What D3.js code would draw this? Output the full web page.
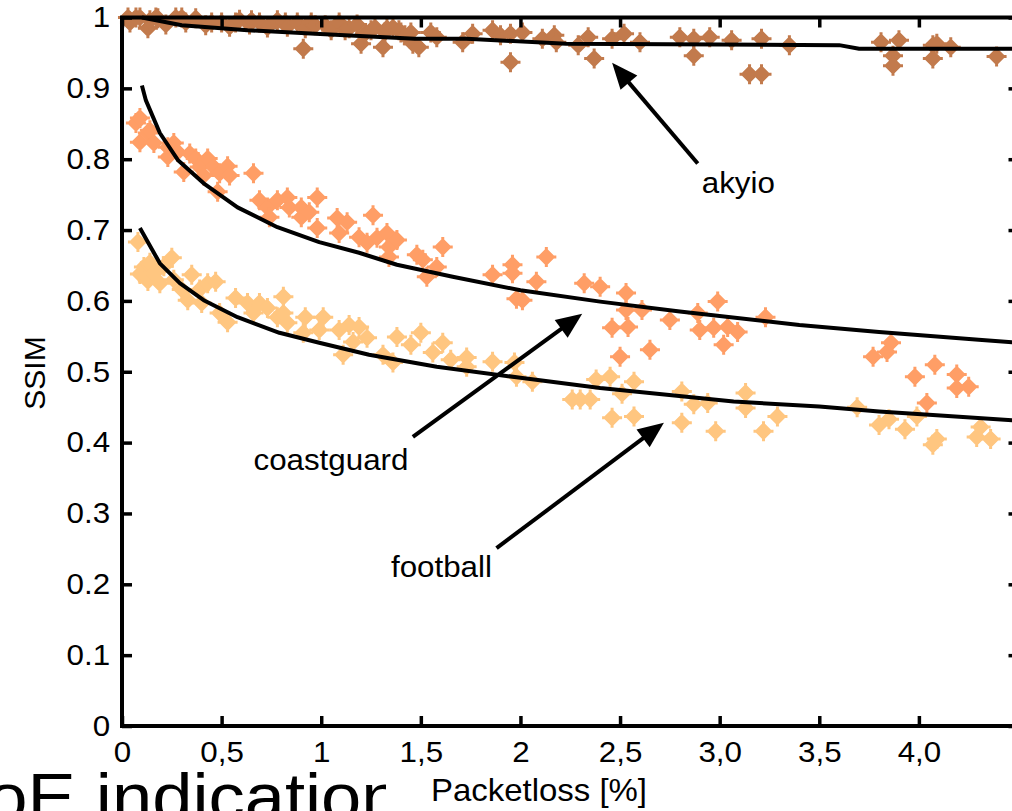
<!DOCTYPE html>
<html>
<head>
<meta charset="utf-8">
<script src="https://cdn.jsdelivr.net/npm/d3@7"></script>
<style>
	html, body { margin: 0; padding: 0; background: #fff; }
	svg { display: block; font-family: "Liberation Sans", Arial, sans-serif; }
</style>
</head>
<body>
<div id="chart"></div>
<script>

// tick labels (comma decimals on the x axis, as in the original)
var x_ticks = [0, 0.5, 1, 1.5, 2, 2.5, 3, 3.5, 4];
var x_tick_labels = ['0', '0,5', '1', '1,5', '2', '2,5', '3,0', '3,5', '4,0'];
var y_ticks = [0, 0.1, 0.2, 0.3, 0.4, 0.5, 0.6, 0.7, 0.8, 0.9, 1];
var y_tick_labels = ['0', '0.1', '0.2', '0.3', '0.4', '0.5', '0.6', '0.7', '0.8', '0.9', '1'];

var series_names = ['akyio', 'coastguard', 'football'];
var series_colors = ['#c27a4c', '#ff9e66', '#ffc680'];

// measured points [packetloss %, ssim]
var akyio_points = [
	[0.03, 1.0], [0.04, 0.993], [0.07, 1.0], [0.09, 1.0], [0.13, 0.985], [0.14, 0.996],
	[0.17, 1.0], [0.18, 0.999], [0.22, 0.99], [0.27, 1.0], [0.30, 1.0], [0.32, 0.993],
	[0.37, 0.999], [0.42, 0.989], [0.45, 0.993], [0.50, 0.993], [0.54, 0.987], [0.57, 0.993],
	[0.59, 0.997], [0.64, 0.99], [0.65, 0.996], [0.69, 0.993], [0.73, 0.986], [0.78, 0.996],
	[0.82, 0.993], [0.83, 0.987], [0.88, 0.993], [0.91, 0.956], [0.92, 0.985], [0.95, 0.993],
	[0.97, 0.989], [1.02, 0.989], [1.05, 0.982], [1.09, 0.993], [1.12, 0.982], [1.14, 0.985],
	[1.18, 0.99], [1.20, 0.963], [1.22, 0.977], [1.25, 0.982], [1.27, 0.986], [1.31, 0.958],
	[1.32, 0.979], [1.33, 0.985], [1.36, 0.986], [1.39, 0.982], [1.40, 0.979], [1.42, 0.975],
	[1.45, 0.979], [1.46, 0.963], [1.49, 0.958], [1.55, 0.979], [1.58, 0.972], [1.71, 0.965],
	[1.76, 0.977], [1.86, 0.982], [1.90, 0.975], [1.95, 0.977], [1.95, 0.937], [2.01, 0.979],
	[2.11, 0.97], [2.17, 0.975], [2.18, 0.965], [2.29, 0.961], [2.34, 0.972], [2.37, 0.942],
	[2.46, 0.97], [2.52, 0.977], [2.60, 0.965], [2.80, 0.972], [2.87, 0.97], [2.87, 0.946],
	[2.95, 0.972], [3.06, 0.968], [3.15, 0.92], [3.21, 0.97], [3.21, 0.92], [3.35, 0.961],
	[3.81, 0.965], [3.87, 0.946], [3.87, 0.932], [3.90, 0.968], [4.07, 0.961], [4.07, 0.942],
	[4.09, 0.963], [4.16, 0.958], [4.39, 0.945]
];

var coastguard_points = [
	[0.07, 0.851], [0.09, 0.858], [0.09, 0.824], [0.13, 0.837], [0.14, 0.841], [0.16, 0.823],
	[0.23, 0.817], [0.26, 0.823], [0.23, 0.803], [0.28, 0.81], [0.31, 0.782], [0.34, 0.808],
	[0.37, 0.801], [0.39, 0.789], [0.43, 0.801], [0.46, 0.789], [0.41, 0.777], [0.49, 0.78],
	[0.53, 0.79], [0.54, 0.777], [0.48, 0.754], [0.66, 0.78], [0.69, 0.742], [0.73, 0.732],
	[0.74, 0.718], [0.78, 0.742], [0.83, 0.746], [0.84, 0.732], [0.90, 0.732], [0.90, 0.718],
	[0.94, 0.725], [0.98, 0.746], [0.98, 0.703], [1.08, 0.717], [1.09, 0.696], [1.13, 0.711],
	[1.19, 0.69], [1.23, 0.682], [1.26, 0.721], [1.28, 0.689], [1.33, 0.696], [1.34, 0.676],
	[1.34, 0.662], [1.38, 0.686], [1.48, 0.665], [1.51, 0.658], [1.53, 0.634], [1.58, 0.648],
	[1.61, 0.676], [1.86, 0.637], [1.96, 0.651], [1.96, 0.639], [1.98, 0.603], [2.13, 0.662],
	[2.08, 0.627], [2.01, 0.601], [2.32, 0.625], [2.40, 0.62], [2.53, 0.611], [2.53, 0.587],
	[2.61, 0.587], [2.75, 0.573], [2.46, 0.562], [2.54, 0.563], [2.89, 0.583], [2.99, 0.599],
	[2.90, 0.559], [2.97, 0.562], [3.04, 0.563], [3.09, 0.556], [3.02, 0.538], [2.50, 0.521],
	[2.65, 0.531], [3.23, 0.577], [3.77, 0.521], [3.84, 0.528], [3.86, 0.541], [3.98, 0.493],
	[4.08, 0.51], [4.04, 0.456], [4.19, 0.496], [4.19, 0.477], [4.25, 0.479]
];

var football_points = [
	[0.08, 0.683], [0.11, 0.648], [0.14, 0.654], [0.09, 0.638], [0.13, 0.628], [0.16, 0.639],
	[0.19, 0.625], [0.21, 0.649], [0.25, 0.661], [0.26, 0.63], [0.30, 0.616], [0.33, 0.601],
	[0.35, 0.637], [0.39, 0.616], [0.40, 0.597], [0.43, 0.625], [0.47, 0.627], [0.49, 0.583],
	[0.53, 0.57], [0.57, 0.604], [0.63, 0.597], [0.66, 0.583], [0.69, 0.597], [0.73, 0.59],
	[0.78, 0.577], [0.81, 0.606], [0.81, 0.583], [0.83, 0.569], [0.92, 0.577], [0.91, 0.555],
	[1.01, 0.577], [0.99, 0.559], [1.09, 0.559], [1.11, 0.524], [1.14, 0.566], [1.19, 0.563],
	[1.16, 0.542], [1.23, 0.548], [1.31, 0.524], [1.36, 0.513], [1.38, 0.549], [1.45, 0.538],
	[1.50, 0.555], [1.56, 0.527], [1.61, 0.541], [1.65, 0.517], [1.73, 0.52], [1.73, 0.507],
	[1.86, 0.514], [1.97, 0.513], [1.98, 0.493], [2.06, 0.486], [2.26, 0.461], [2.30, 0.461],
	[2.35, 0.461], [2.38, 0.489], [2.45, 0.493], [2.51, 0.469], [2.57, 0.486], [2.46, 0.435],
	[2.57, 0.437], [2.81, 0.472], [2.87, 0.454], [2.94, 0.456], [2.81, 0.428], [2.98, 0.416],
	[3.13, 0.47], [3.13, 0.449], [3.22, 0.416], [3.29, 0.437], [3.69, 0.45], [3.80, 0.425],
	[3.85, 0.433], [3.93, 0.419], [3.99, 0.437], [4.07, 0.397], [4.09, 0.405], [4.31, 0.422],
	[4.36, 0.405], [4.29, 0.408]
];

// fitted curves (black lines)
var akyio_fit = [
	[0.1, 1.0], [0.3, 0.989], [0.63, 0.982], [0.97, 0.977], [1.47, 0.97], [1.73, 0.97],
	[2.23, 0.963], [3.0, 0.962], [3.6, 0.961], [3.7, 0.956], [4.5, 0.956]
];
var coastguard_fit = [
	[0.1, 0.904], [0.12, 0.883], [0.19, 0.837], [0.28, 0.799], [0.41, 0.766], [0.58, 0.732],
	[0.78, 0.704], [0.99, 0.683], [1.19, 0.668], [1.38, 0.651], [1.66, 0.634], [2.0, 0.615],
	[2.4, 0.599], [2.8, 0.585], [3.4, 0.566], [3.8, 0.556], [4.3, 0.545], [4.5, 0.541]
];
var football_fit = [
	[0.09, 0.703], [0.19, 0.653], [0.29, 0.625], [0.41, 0.601], [0.58, 0.577], [0.79, 0.555],
	[0.99, 0.541], [1.24, 0.524], [1.58, 0.507], [2.0, 0.4915], [2.4, 0.477], [3.07, 0.458],
	[3.5, 0.451], [3.8, 0.444], [4.07, 0.439], [4.5, 0.431]
];

// annotation arrows: label, label anchor, arrow tail, arrow tip (data units)
var arrow_labels = ['akyio', 'coastguard', 'football'];
var arrow_label_pos = [[2.91, 0.752], [0.66, 0.362], [1.35, 0.211]];
var arrow_tails = [[2.89, 0.794], [1.46, 0.408], [1.88, 0.251]];
var arrow_tips = [[2.46, 0.936], [2.31, 0.582], [2.72, 0.428]];


var width = 1012, height = 811;
var text_stretch = 'scale(1.08,1)';  // the source picture is a bit wider than tall

var x = d3.scaleLinear().domain([0, 4.5]).range([122, 1018.5]);
var y = d3.scaleLinear().domain([0, 1]).range([726, 17.5]);

var svg = d3.select('#chart').append('svg')
	.attr('width', width)
	.attr('height', height);

// slide text partly hidden behind the figure
svg.append('clipPath').attr('id', 'qoe-clip')
	.append('rect').attr('x', 0).attr('y', 700).attr('width', 386).attr('height', 120);

svg.append('g')
	.attr('clip-path', 'url(#qoe-clip)')
	.append('text')
	.attr('transform', 'translate(-69,820) ' + text_stretch)
	.attr('font-size', 67)
	.attr('fill', '#000')
	.text('QoE indication');

var plot = svg.append('g');

// filled diamond with small square tips, like the matlab markers
var marker_path = 'M0,-9L9,0L0,9L-9,0Z' +
	'M-1.5,-10h3v8.5h8.5v3h-8.5v8.5h-3v-8.5h-8.5v-3h8.5Z';

var all_points = [akyio_points, coastguard_points, football_points];
all_points.forEach(function (pts, i) {
	plot.append('g')
		.selectAll('path')
		.data(pts)
		.enter().append('path')
		.attr('d', marker_path)
		.attr('fill', series_colors[i])
		.attr('transform', function (d) { return 'translate(' + x(d[0]) + ',' + y(d[1]) + ')'; });
});

var fit_line = d3.line()
	.x(function (d) { return x(d[0]); })
	.y(function (d) { return y(d[1]); });

[akyio_fit, coastguard_fit, football_fit].forEach(function (fit) {
	plot.append('path')
		.attr('d', fit_line(fit))
		.attr('fill', 'none')
		.attr('stroke', '#000')
		.attr('stroke-width', 4)
		.attr('stroke-linejoin', 'round');
});

// axes, all ticks point inwards
var x_axis = d3.axisBottom(x)
	.tickValues(x_ticks)
	.tickFormat(function (d, i) { return x_tick_labels[i]; })
	.tickSizeInner(-10).tickSizeOuter(0).tickPadding(15);

var y_axis = d3.axisLeft(y)
	.tickValues(y_ticks)
	.tickFormat(function (d, i) { return y_tick_labels[i]; })
	.tickSizeInner(-10).tickSizeOuter(0).tickPadding(11);

var x_top = d3.axisTop(x).tickValues(x_ticks).tickFormat('').tickSizeInner(-10).tickSizeOuter(0);
var y_right = d3.axisRight(y).tickValues(y_ticks).tickFormat('').tickSizeInner(-10).tickSizeOuter(0);

var gx = svg.append('g').attr('transform', 'translate(0,' + y(0) + ')').call(x_axis);
var gy = svg.append('g').attr('transform', 'translate(' + x(0) + ',0)').call(y_axis);
var gt = svg.append('g').attr('transform', 'translate(0,' + y(1) + ')').call(x_top);
var gr = svg.append('g').attr('transform', 'translate(' + x(4.5) + ',0)').call(y_right);

[gx, gy, gt, gr].forEach(function (g) {
	g.select('.domain').remove();
	g.selectAll('.tick line').attr('stroke', '#000').attr('stroke-width', 3.5);
	g.selectAll('.tick text')
		.attr('font-family', '"Liberation Sans", Arial, sans-serif')
		.attr('font-size', 29)
		.attr('fill', '#000')
		.attr('transform', text_stretch);
});

// frame
svg.append('rect')
	.attr('x', x(0)).attr('y', y(1))
	.attr('width', x(4.5) - x(0)).attr('height', y(0) - y(1))
	.attr('fill', 'none')
	.attr('stroke', '#000')
	.attr('stroke-width', 4);

// axis titles
svg.append('text')
	.attr('text-anchor', 'middle')
	.attr('transform', 'translate(539,801) ' + text_stretch)
	.attr('font-size', 30.5)
	.text('Packetloss [%]');

svg.append('text')
	.attr('text-anchor', 'middle')
	.attr('transform', 'translate(45,373) rotate(-90)')
	.attr('font-size', 30)
	.text('SSIM');

// arrows with their labels
var arrow_g = svg.append('g');
arrow_labels.forEach(function (label, i) {
	var x0 = x(arrow_tails[i][0]), y0 = y(arrow_tails[i][1]);
	var x1 = x(arrow_tips[i][0]), y1 = y(arrow_tips[i][1]);
	var ang = Math.atan2(y1 - y0, x1 - x0);
	var head_len = 26, head_half = 11;
	var bx = x1 - head_len * Math.cos(ang), by = y1 - head_len * Math.sin(ang);

	arrow_g.append('line')
		.attr('x1', x0).attr('y1', y0)
		.attr('x2', bx + 4 * Math.cos(ang)).attr('y2', by + 4 * Math.sin(ang))
		.attr('stroke', '#000')
		.attr('stroke-width', 4);

	arrow_g.append('path')
		.attr('d', 'M' + x1 + ',' + y1 +
			'L' + (bx - head_half * Math.sin(ang)) + ',' + (by + head_half * Math.cos(ang)) +
			'L' + (bx + head_half * Math.sin(ang)) + ',' + (by - head_half * Math.cos(ang)) + 'Z')
		.attr('fill', '#000');

	arrow_g.append('text')
		.attr('transform', 'translate(' + x(arrow_label_pos[i][0]) + ',' + y(arrow_label_pos[i][1]) + ') ' + text_stretch)
		.attr('font-size', 29)
		.text(label);
});

</script>
</body>
</html>
